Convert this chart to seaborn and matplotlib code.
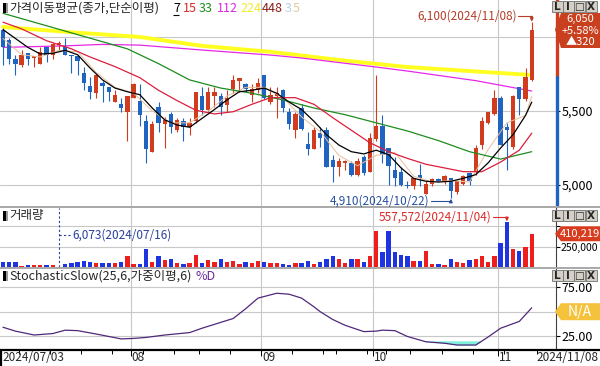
import numpy as np
import seaborn as sns
import matplotlib.pyplot as plt
from matplotlib import transforms
from matplotlib.patches import Rectangle, Polygon

# daily candles 2024/07/03 .. 2024/11/08
month_names = ['2024/07/03', '08', '09', '10', '11']
month_start = [0, 21, 42, 60, 80]
week_start = [3, 8, 13, 18, 23, 28, 32, 37, 47, 52, 54, 59, 62, 66, 71, 76, 81]

opens = [6050, 5980, 5850, 5810, 5890, 5860, 5820, 5930, 5880, 5950,
         5930, 5880, 5870, 5760, 5670, 5620, 5690, 5660, 5560, 5550,
         5490, 5590, 5570, 5430, 5220, 5530, 5410, 5480, 5370, 5430,
         5390, 5430, 5600, 5510, 5600, 5600, 5540, 5650, 5700, 5680,
         5610, 5640, 5740, 5560, 5600, 5640, 5490, 5370, 5520, 5280,
         5240, 5350, 5370, 5170, 5120, 5150, 5150, 5070, 5190, 5090,
         5310, 5400, 5250, 5100, 5090, 5000, 4990, 5070, 4940, 5010,
         5040, 5020, 5050, 4950, 5010, 5080, 5090, 5270, 5420, 5480,
         5590, 5390, 5260, 5660, 5580, 5710]
highs = [6060, 5990, 5880, 5910, 5890, 5870, 5930, 5930, 5960, 5970,
         5990, 5880, 5870, 5800, 5730, 5740, 5700, 5660, 5640, 5590,
         5600, 5690, 5680, 5470, 5430, 5560, 5460, 5490, 5450, 5450,
         5450, 5630, 5660, 5660, 5660, 5620, 5640, 5740, 5720, 5690,
         5680, 5720, 5740, 5660, 5660, 5650, 5520, 5490, 5550, 5360,
         5390, 5390, 5390, 5200, 5180, 5170, 5160, 5180, 5200, 5350,
         5740, 5470, 5250, 5190, 5120, 5030, 5050, 5140, 5030, 5050,
         5050, 5070, 5050, 5030, 5070, 5090, 5270, 5460, 5490, 5640,
         5600, 5420, 5610, 5660, 5790, 6100]
lows = [5810, 5820, 5740, 5800, 5810, 5800, 5820, 5830, 5850, 5910,
        5880, 5760, 5740, 5640, 5580, 5590, 5560, 5570, 5560, 5490,
        5300, 5590, 5400, 5150, 5220, 5360, 5250, 5350, 5360, 5300,
        5340, 5420, 5470, 5490, 5530, 5470, 5490, 5620, 5630, 5630,
        5560, 5620, 5580, 5550, 5450, 5490, 5380, 5320, 5370, 5200,
        5240, 5260, 5120, 5020, 5060, 5100, 5060, 5060, 5070, 5090,
        5300, 5150, 5000, 4990, 4990, 4980, 4970, 4990, 4940, 4990,
        5020, 5010, 4910, 4940, 5000, 5000, 5070, 5240, 5410, 5470,
        5270, 5100, 5240, 5470, 5570, 5700]
closes = [5930, 5850, 5820, 5880, 5850, 5870, 5900, 5880, 5950, 5960,
          5880, 5870, 5840, 5690, 5630, 5740, 5670, 5630, 5610, 5520,
          5600, 5680, 5470, 5240, 5410, 5420, 5440, 5390, 5440, 5390,
          5420, 5630, 5510, 5630, 5630, 5530, 5590, 5710, 5720, 5650,
          5650, 5690, 5590, 5610, 5620, 5520, 5410, 5480, 5380, 5240,
          5370, 5320, 5120, 5120, 5160, 5160, 5070, 5160, 5080, 5320,
          5400, 5200, 5130, 5050, 5000, 4990, 5050, 5050, 5010, 5040,
          5030, 5060, 4960, 5030, 5060, 5030, 5250, 5430, 5490, 5590,
          5270, 5370, 5600, 5580, 5730, 6050]
volumes = [64000, 64000, 64000, 12000, 24000, 24000, 24000, 24000, 24000, 6073,
           33000, 45000, 57000, 73000, 65000, 45000, 45000, 53000, 45000, 65000,
           133000, 36000, 36000, 218000, 65000, 133000, 85000, 93000, 53000, 36000,
           53000, 146000, 53000, 85000, 65000, 93000, 65000, 73000, 36000, 65000,
           53000, 69000, 65000, 45000, 53000, 36000, 24000, 45000, 53000, 73000,
           33000, 65000, 93000, 133000, 93000, 45000, 93000, 101000, 65000, 133000,
           441000, 186000, 449000, 186000, 146000, 133000, 73000, 73000, 198000, 36000,
           36000, 24000, 101000, 61000, 53000, 85000, 93000, 133000, 65000, 133000,
           295000, 557572, 218000, 198000, 247000, 410219]

# moving averages
ma7_idx = [0, 2, 4, 6, 8, 10, 12, 14, 16, 18, 20, 22, 24, 26, 28, 30, 32, 34, 36, 38, 40, 42,
           44, 46, 48, 50, 52, 54, 56, 58, 60, 62, 64, 66, 68, 70, 72, 74, 76, 78, 80, 82, 84, 85]
ma7 = [6050, 5990, 5930, 5885, 5890, 5910, 5880, 5790, 5710, 5655, 5630, 5610, 5520, 5440,
       5405, 5390, 5450, 5510, 5575, 5630, 5640, 5655, 5620, 5560, 5510, 5430, 5340, 5270,
       5225, 5210, 5235, 5205, 5115, 5045, 5025, 5020, 5025, 5045, 5070, 5150, 5250, 5340,
       5470, 5560]
ma15_idx = [0, 3, 7, 11, 14, 18, 22, 25, 28, 31, 34, 37, 40, 43, 47, 50, 53, 56, 59, 62,
            65, 68, 71, 74, 77, 80, 83, 85]
ma15 = [6100, 6055, 5975, 5920, 5865, 5800, 5725, 5640, 5570, 5505, 5480, 5495, 5545, 5590,
        5590, 5545, 5455, 5370, 5285, 5225, 5180, 5140, 5115, 5090, 5090, 5155, 5235, 5350]
ma33_idx = [0, 5, 10, 15, 20, 25, 30, 35, 40, 45, 50, 55, 60, 65, 70, 75, 80, 85]
ma33 = [6160, 6100, 6040, 5980, 5920, 5820, 5710, 5655, 5620, 5575, 5520, 5475, 5420, 5365,
        5300, 5225, 5175, 5225]
ma112_idx = [0, 10, 16, 22, 32, 43, 48, 60, 65, 76, 85]
ma112 = [5930, 5940, 5950, 5945, 5912, 5878, 5858, 5797, 5770, 5705, 5635]
ma224_idx = [0, 11, 22, 32, 43, 54, 65, 75, 85]
ma224 = [6068, 6032, 6000, 5940, 5900, 5845, 5797, 5770, 5743]
ma5_idx = [0, 3, 6, 9, 12, 15, 18, 21, 24, 27, 30, 33, 36, 39, 42, 45, 48, 51, 54, 57, 60,
           63, 66, 69, 72, 75, 78, 81, 84, 85]
ma5 = [5990, 5880, 5865, 5910, 5900, 5760, 5660, 5620, 5500, 5420, 5420, 5500, 5600, 5660,
       5660, 5590, 5460, 5360, 5200, 5130, 5200, 5220, 5060, 5020, 5030, 5020, 5240, 5420,
       5470, 5600]

# stochastic slow %D
stoch_idx = [0, 2, 5, 8, 10, 12, 15, 17, 19, 21, 23, 26, 30, 32, 34, 37, 39, 41, 44, 46, 48,
             50, 51, 53, 55, 58, 60, 61, 63, 65, 68, 71, 73, 76, 78, 80, 83, 85]
stoch_d = [34, 30, 26, 27.5, 31, 30.5, 27, 24.5, 22, 22.5, 23.5, 26, 28.5, 33, 37, 43, 53,
           64, 69, 68, 64, 55, 50, 42, 36, 29.5, 30, 31, 30.5, 24.5, 19, 17.5, 15.7, 15.7,
           24, 33, 40, 54]

RED, BLUE = '#d23c1e', '#1f64c0'
VRED, VBLUE = '#ee1e1e', '#1e34e0'
GRID = '#c8c8c8'

sns.set_style('white')
plt.rcParams['font.family'] = ['Noto Sans CJK KR', 'DejaVu Sans']
plt.rcParams['axes.unicode_minus'] = False

W, H = 600, 366
fig = plt.figure(figsize=(W / 100, H / 100), dpi=100)


def box(x0, y0, x1, y1):
    return [x0 / W, 1 - y1 / H, (x1 - x0) / W, (y1 - y0) / H]


ax = fig.add_axes(box(0, 0, 556, 206))
axv = fig.add_axes(box(0, 208, 556, 267))
axs = fig.add_axes(box(0, 268, 556, 349))
ov = fig.add_axes([0, 0, 1, 1], zorder=10)
ov.set_xlim(0, W)
ov.set_ylim(H, 0)
ov.axis('off')
ov.patch.set_alpha(0)

idx = np.arange(len(closes))
o, h, l, c = map(np.array, (opens, highs, lows, closes))
up = c > o
ccol = np.where(up, RED, BLUE)
vcol = np.where(up, VRED, VBLUE)

for a in (ax, axv, axs):
    a.set_xlim(-0.48, 88.9)
    for s in a.spines.values():
        s.set_visible(False)
    a.set_xticks([])
    a.yaxis.tick_right()
    a.tick_params(axis='y', length=3, width=0.8, pad=1, labelsize=9, colors='black',
                  direction='out')
    for m in month_start[1:]:
        a.axvline(m - 0.5, color=GRID, lw=0.8, zorder=0)

# price panel (6,000 label sits under the current-price tag)
ax.set_ylim(4858, 6250)
ax.set_yticks([5000, 5500, 6000])
ax.set_yticklabels(['5,000', '5,500', ''])
ax.grid(axis='y', color=GRID, lw=0.8)
sns.lineplot(x=ma224_idx, y=ma224, color='#ffff20', lw=2.8, ax=ax, zorder=1)
sns.lineplot(x=ma112_idx, y=ma112, color='#e628e6', lw=0.9, ax=ax, zorder=2)
ax.vlines(idx, l, h, colors=ccol, lw=0.8, zorder=3)
ax.bar(idx, np.maximum(np.abs(c - o), 4), bottom=np.minimum(o, c), width=0.7,
       color=ccol, lw=0, zorder=4)
sns.lineplot(x=ma5_idx, y=ma5, color='#e8bf9c', lw=0.7, ax=ax, zorder=5)
sns.lineplot(x=ma33_idx, y=ma33, color='#1e8c1e', lw=0.9, ax=ax, zorder=5)
sns.lineplot(x=ma15_idx, y=ma15, color='#dc1e3c', lw=0.9, ax=ax, zorder=5)
sns.lineplot(x=ma7_idx, y=ma7, color='black', lw=0.9, ax=ax, zorder=6)
ax.set_xlabel('')
ax.set_ylabel('')

tr = transforms.blended_transform_factory(ax.transAxes, ax.transData)
prev_close = closes[-2]
ax.plot([1.001, 1.001], [prev_close, 6250], color=RED, lw=2.4, transform=tr, clip_on=False)
ax.plot([1.001, 1.001], [4858, prev_close], color=BLUE, lw=2.4, transform=tr, clip_on=False)

# volume panel
axv.bar(idx, volumes, width=0.7, color=vcol, lw=0)
axv.set_ylim(0, 728000)
axv.set_yticks([250000, 500000])
axv.set_yticklabels(['250,000', ''])
axv.tick_params(axis='y', labelsize=7.5, pad=0.5)
axv.grid(axis='y', color=GRID, lw=0.8)
axv.spines['right'].set_visible(True)
axv.spines['right'].set_color('#404040')
vmin_i = int(np.argmin(volumes))
axv.axvline(vmin_i, color='#2840a0', lw=0.8, ls=(0, (2, 2)))

# stochastic panel
sd = np.array(stoch_d)
sns.lineplot(x=stoch_idx, y=stoch_d, color='#50287a', lw=0.9, ax=axs, zorder=3)
axs.fill_between(stoch_idx, sd, 20, where=sd < 20, interpolate=True, color='#7ff0dc',
                 lw=0, zorder=2)
axs.set_ylim(11.6, 95)
axs.set_yticks([25, 50, 75])
axs.set_yticklabels(['25.00', '', '75.00'])
axs.grid(axis='y', color=GRID, lw=0.8)
axs.spines['right'].set_visible(True)
axs.spines['right'].set_color('#404040')
for a in (axv, axs):
    a.set_xlabel('')
    a.set_ylabel('')


def px(a, x, y):
    dx, dy = a.transData.transform((x, y))
    return dx, H - dy


# separators and date axis
ov.hlines([207, 267.5], 0, W, color='#a8a8a8', lw=1.4)
ov.hlines(349.5, 0, W, color='black', lw=1.6)
ov.vlines(0.8, 349, H, color='black', lw=1.6)
for w in week_start:
    x = px(axs, w - 0.5, 0)[0]
    ov.vlines(x, 350, 354, color='black', lw=0.7)
for k, m in enumerate(month_start):
    x = px(axs, m - 0.5, 0)[0]
    if k == 0:
        ov.text(2, 357.5, month_names[0], fontsize=8.5, va='center', ha='left')
    else:
        ov.vlines(x, 350, 356, color='black', lw=0.7)
        ov.text(x + 1, 357.5, month_names[k], fontsize=8.5, va='center', ha='left')
ov.vlines(537, 350, 354, color='black', lw=0.7)
ov.text(598, 357.5, '2024/11/08', fontsize=8.5, va='center', ha='right')


# panel titles
def icon(y):
    ov.add_patch(Rectangle((2.5, y - 5), 3, 10, fc='black', lw=0))
    ov.add_patch(Rectangle((5.5, y - 5), 2.5, 10, fc='#9a9a9a', lw=0))


icon(8)
ov.text(9, 8, '가격이동평균(종가,단순이평)', fontsize=9, va='center')
for txt, x, col in [('7', 173, 'black'), ('15', 183, '#dc2828'), ('33', 199, '#1e8c1e'),
                    ('112', 217, '#dc28dc'), ('224', 240, '#f0ec30'),
                    ('448', 262, '#8c1e1e'), ('3', 285, '#b4d2e6'), ('5', 293, '#e6c8a0')]:
    ov.text(x, 8, txt, color=col, fontsize=9, va='center')
ov.hlines(14.5, 173, 179, color='black', lw=0.8)

icon(216)
ov.text(9, 216, '거래량', fontsize=9, va='center')
icon(276)
ov.text(9, 276, 'StochasticSlow(25,6,가중이평,6)', fontsize=9, va='center')
ov.text(195, 276, '%D', fontsize=9, va='center', color='#6a2c9a')


# control buttons
def buttons(y):
    for x0, g in zip([552, 563, 574, 586], ['L', 'I', '□', 'X']):
        ov.add_patch(Rectangle((x0, y), 10.5, 11, fc='#d4d0c8', ec='#707070', lw=0.6))
        ov.text(x0 + 5.2, y + 5.8, g, ha='center', va='center', fontsize=7.5,
                family='DejaVu Sans', fontweight='bold')


buttons(1)
buttons(210)
buttons(270)


# value tags on the right
def tag(yp, y0, y1, color, lines, fs=8):
    ov.add_patch(Polygon([(555, yp), (561, y0), (600, y0), (600, y1), (561, y1)],
                         closed=True, fc=color, ec='none'))
    n = len(lines)
    for k, t in enumerate(lines):
        yy = y0 + (y1 - y0) * (k + 0.5) / n
        ov.text(580, yy, t, color='white', fontsize=fs, ha='center', va='center')


_, ycur = px(ax, 0, closes[-1])
chg = closes[-1] - closes[-2]
tag(ycur, 13, 48, '#c8401e',
    [f'{closes[-1]:,}', f'+{chg / closes[-2] * 100:.2f}%', f'▲{chg}'])
_, yvc = px(axv, 0, volumes[-1])
tag(yvc, yvc - 7.5, yvc + 7.5, '#d83c1e', [f'{volumes[-1]:,}'])
_, y50 = px(axs, 0, 50)
tag(y50, y50 - 8.5, y50 + 8.5, '#f5c23c', ['N/A'], fs=10)


# high / low / volume markers
def mark(a, i, val, text, color, dy, gap):
    x, y = px(a, i, val)
    ov.text(x - gap, y + dy, text, color=color, fontsize=8.5, ha='right', va='center')
    ov.plot([x - gap + 1, x], [y + dy, y + dy], color=color, lw=0.8)
    ov.annotate('', xy=(x, y + (0.5 if dy > 0 else -0.5)), xytext=(x, y + dy),
                arrowprops=dict(arrowstyle='-|>', color=color, lw=0.8, mutation_scale=5,
                                shrinkA=0, shrinkB=0))


hi_i = int(np.argmax(highs))
lo_i = int(np.argmin(lows))
vmax_i = int(np.argmax(volumes))
mark(ax, hi_i, highs[hi_i], f'{highs[hi_i]:,}(2024/11/08)', '#b43c28', -6, 15)
mark(ax, lo_i, lows[lo_i], f'{lows[lo_i]:,}(2024/10/22)', '#2850a0', 3, 21)
mark(axv, vmax_i, volumes[vmax_i], f'{volumes[vmax_i]:,}(2024/11/04)', '#dc2828', -5, 15)

xm, _ = px(axv, vmin_i, 0)
ov.plot([xm, xm + 12], [235, 235], color='#2840a0', lw=0.8, ls=(0, (2, 2)))
ov.text(xm + 13, 235, f'{volumes[vmin_i]:,}(2024/07/16)', color='#2840a0', fontsize=8.5,
        va='center', ha='left')

fig.savefig('out.png', dpi=100)
